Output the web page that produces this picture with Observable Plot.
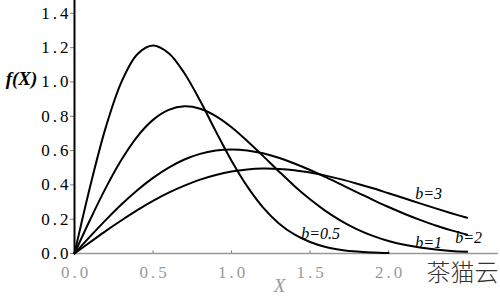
<!DOCTYPE html>
<html><head><meta charset="utf-8">
<script src="https://cdn.jsdelivr.net/npm/d3@7"></script>
<script src="https://cdn.jsdelivr.net/npm/@observablehq/plot@0.6"></script>
<style>body{margin:0;background:#fff;overflow:hidden}
svg text{font-family:"Liberation Serif", "DejaVu Serif", serif !important}
svg text.cjk{font-family:"Noto Sans CJK SC" !important}
g[aria-label="y-axis tick label"] text, g[aria-label="x-axis tick label"] text{letter-spacing:3px}
</style>
</head><body><div id="c"></div>
<script>
const xs = [0,0.1,0.2,0.3,0.4,0.5,0.6,0.7,0.8,0.9,1.0,1.1,1.2,1.3,1.4,1.5,1.6,1.7,1.8,1.9,2.0,2.1,2.2,2.3,2.4,2.5];
const fb05 = [0,0.392,0.738,1.002,1.162,1.213,1.168,1.051,0.890,0.712,0.541,0.391,0.269,0.177,0.111,0.067,0.038,0.021,0.011,0.006,0.003];
const fb1 = [0,0.198,0.384,0.548,0.682,0.779,0.837,0.858,0.844,0.801,0.736,0.656,0.569,0.480,0.394,0.316,0.247,0.189,0.141,0.103,0.073,0.051,0.035,0.023,0.015,0.010];
const fb2 = [0,0.100,0.196,0.287,0.369,0.441,0.501,0.548,0.581,0.600,0.607,0.601,0.584,0.558,0.525,0.487,0.445,0.401,0.356,0.313,0.271,0.232,0.196,0.163,0.135,0.110];
const fb3 = [0,0.066,0.132,0.194,0.253,0.307,0.355,0.396,0.431,0.458,0.478,0.490,0.495,0.493,0.486,0.472,0.454,0.432,0.407,0.380,0.351,0.322,0.292,0.263,0.235,0.208];
const seriesNames = ["b=0.5","b=1","b=2","b=3"];
const seriesValues = [fb05, fb1, fb2, fb3];
const yTicks = [0,0.2,0.4,0.6,0.8,1.0,1.2,1.4];
const xTicks = [0,0.5,1.0,1.5,2.0,2.5];
const xLabelTicks = [0,0.5,1.0,1.5,2.0];
// curve label anchors (annotation positions in data units)
const labels = [
  {name:"b=0.5", x:1.567, y:0.117, anchor:"middle"},
  {name:"b=1", x:2.255, y:0.064, anchor:"middle"},
  {name:"b=3", x:2.255, y:0.35, anchor:"middle"},
  {name:"b=2", x:2.51, y:0.093, anchor:"start"}
];

const rows = [];
seriesNames.forEach((s, i) => seriesValues[i].forEach((v, j) => rows.push({series: s, x: xs[j], y: v})));

const serif = "Liberation Serif";
const chart = Plot.plot({
  width: 500, height: 296,
  marginLeft: 74, marginRight: 2, marginTop: 0, marginBottom: 43,
  style: {fontFamily: serif, fontSize: "16px", background: "#fff", color: "#000"},
  x: {domain: [0, 2.7]},
  y: {domain: [0, 1.475]},
  marks: [
    Plot.ruleY([0], {stroke: "#999", strokeWidth: 1.5}),
    Plot.ruleX(xTicks, {y1: 0, y2: 0.015, stroke: "#777", strokeWidth: 1}),
    Plot.ruleX([0], {stroke: "#000", strokeWidth: 2}),
    Plot.axisY({ticks: yTicks, tickFormat: d3.format(".1f"), tickSize: 4, tickPadding: -1, label: null, fontSize: 17, fill: "#000", stroke: "#000", strokeWidth: 0.5}),
    Plot.axisX({ticks: xLabelTicks, tickFormat: d3.format(".1f"), tickSize: 0, tickPadding: 12, dx: 1.5, label: null, fontSize: 17, fill: "#999"}),
    Plot.line(rows, {x: "x", y: "y", z: "series", stroke: "#000", strokeWidth: 2, curve: "catmull-rom"}),
    Plot.text(labels, {x: "x", y: "y", text: "name", textAnchor: "anchor", fontStyle: "italic", fontSize: 16, fill: "#000", lineAnchor: "middle"}),
    Plot.text(["f(X)"], {frameAnchor: "top-left", dx: -53, dy: 78, fontStyle: "italic", fontWeight: "bold", fontSize: 19, textAnchor: "middle", lineAnchor: "middle"}),
    Plot.text(["X"], {frameAnchor: "bottom", dx: -7, dy: 32, fontStyle: "italic", fontSize: 19, fill: "#999", lineAnchor: "middle"}),
    Plot.text(["茶猫云"], {frameAnchor: "bottom-right", dx: -36, dy: 20, fontWeight: 300, fontSize: 24, fill: "#333", stroke: "#fff", strokeWidth: 4, textAnchor: "middle", lineAnchor: "middle"})
  ]
});
chart.querySelectorAll("text").forEach(t => { if (t.textContent === "茶猫云") t.classList.add("cjk"); });
document.getElementById("c").appendChild(chart);
</script>
</body></html>
